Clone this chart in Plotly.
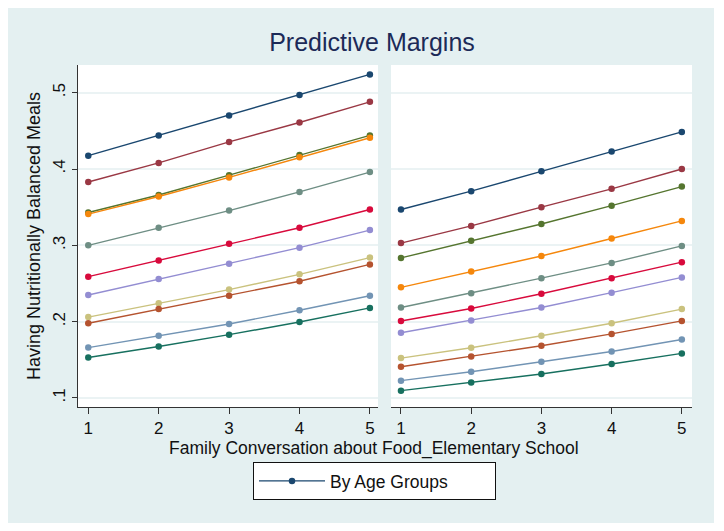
import plotly.graph_objects as go
from plotly.subplots import make_subplots

x_levels = [1, 2, 3, 4, 5]

# Left panel series (11 groups)
left_navy = [0.4175, 0.444, 0.470, 0.497, 0.524]
left_maroon = [0.383, 0.408, 0.4355, 0.461, 0.488]
left_green = [0.343, 0.366, 0.392, 0.4185, 0.444]
left_orange = [0.341, 0.364, 0.389, 0.4155, 0.441]
left_teal = [0.300, 0.323, 0.3455, 0.370, 0.396]
left_cranberry = [0.259, 0.280, 0.302, 0.323, 0.347]
left_lavender = [0.235, 0.256, 0.276, 0.297, 0.320]
left_khaki = [0.206, 0.224, 0.242, 0.262, 0.284]
left_sienna = [0.198, 0.2165, 0.234, 0.253, 0.275]
left_blue = [0.166, 0.1815, 0.197, 0.215, 0.234]
left_emerald = [0.153, 0.1675, 0.183, 0.1995, 0.218]

# Right panel series
right_navy = [0.347, 0.371, 0.397, 0.423, 0.4486]
right_maroon = [0.303, 0.3255, 0.350, 0.374, 0.400]
right_green = [0.2835, 0.306, 0.328, 0.352, 0.377]
right_orange = [0.245, 0.2657, 0.286, 0.309, 0.332]
right_teal = [0.2186, 0.2374, 0.257, 0.277, 0.2993]
right_cranberry = [0.2008, 0.2173, 0.2365, 0.257, 0.278]
right_lavender = [0.1855, 0.2016, 0.2186, 0.238, 0.258]
right_khaki = [0.1523, 0.1658, 0.1815, 0.198, 0.2165]
right_sienna = [0.141, 0.1545, 0.1685, 0.184, 0.201]
right_blue = [0.1227, 0.1344, 0.1475, 0.161, 0.1767]
right_emerald = [0.1096, 0.1204, 0.1314, 0.1445, 0.1584]

y_tick_vals = [0.1, 0.2, 0.3, 0.4, 0.5]
y_tick_text = [".1", ".2", ".3", ".4", ".5"]

left_series = [left_navy, left_maroon, left_green, left_orange, left_teal, left_cranberry,
               left_lavender, left_khaki, left_sienna, left_blue, left_emerald]
right_series = [right_navy, right_maroon, right_green, right_orange, right_teal, right_cranberry,
                right_lavender, right_khaki, right_sienna, right_blue, right_emerald]
colors = ["#1a476f", "#9a3844", "#55752f", "#f5870c", "#6e8e84", "#d80a3c",
          "#938dd2", "#cac27e", "#b5532f", "#7294b4", "#17705f"]

FONT = "Liberation Sans, Arial, sans-serif"
TXT = "#111111"

fig = make_subplots(rows=1, cols=2, shared_yaxes=False, horizontal_spacing=0.02)

for col, series in ((1, left_series), (2, right_series)):
    for i, (vals, c) in enumerate(zip(series, colors)):
        fig.add_trace(go.Scatter(
            x=x_levels, y=vals, mode="lines+markers",
            line=dict(color=c, width=1.4),
            marker=dict(color=c, size=6.5, symbol="circle"),
            name="By Age Groups" if i == 0 else f"Group {i+1}",
            showlegend=(col == 1 and i == 0),
            hoverinfo="x+y",
        ), row=1, col=col)

# Figure sits at page offset (8, 8) because of the default body margin.
W, H = 706, 515
L, R, T, B = 70, 22, 57, 116
pw = W - L - R
ph = H - T - B

def px_x(p):
    return (p - L) / pw

def px_y(p):
    return (H - B - p) / ph

yrange = [0.0882, 0.5363]
fig.update_layout(
    width=W, height=H,
    margin=dict(l=L, r=R, t=T, b=B, pad=0),
    paper_bgcolor="#e4f0f1",
    plot_bgcolor="white",
    font=dict(family=FONT, size=17, color=TXT),
    title=dict(text="Predictive Margins", x=364 / W, xanchor="center",
               y=1 - 34 / H, yanchor="middle",
               font=dict(family=FONT, size=25, color="#1c2a58")),
    xaxis=dict(domain=[0, px_x(370)], range=[0.854, 5.115]),
    xaxis2=dict(domain=[px_x(383), 1], range=[0.858, 5.145]),
    yaxis=dict(range=yrange, tickvals=y_tick_vals, ticktext=y_tick_text,
               tickangle=-90, ticks="outside", ticklen=5, tickcolor="#333333",
               showline=True, linecolor="#333333", linewidth=1,
               showgrid=True, gridcolor="#ebf3f4", gridwidth=1.5, zeroline=False,
               title=dict(text="Having Nutritionally Balanced Meals", standoff=4,
                          font=dict(size=18))),
    yaxis2=dict(range=yrange, tickvals=y_tick_vals, showticklabels=False,
                showline=False, ticks="",
                showgrid=True, gridcolor="#ebf3f4", gridwidth=1.5, zeroline=False,
                matches="y"),
    legend=dict(orientation="h", x=px_x(366.5), xanchor="center",
                y=px_y(473), yanchor="middle",
                bgcolor="white", bordercolor="#111111", borderwidth=1,
                font=dict(size=17.5, color=TXT), entrywidth=160, itemwidth=66),
    showlegend=True,
)

for ax in ("xaxis", "xaxis2"):
    fig.update_layout({ax: dict(tickvals=x_levels, ticks="outside", ticklen=6,
                                tickcolor="#333333", showline=True, linecolor="#333333",
                                linewidth=1, showgrid=False, zeroline=False)})

fig.add_annotation(text="Family Conversation about Food_Elementary School",
                   xref="paper", yref="paper", x=px_x(366), y=px_y(440),
                   xanchor="center", yanchor="middle", showarrow=False,
                   font=dict(family=FONT, size=17.5, color=TXT))

fig.write_html("out.html")
